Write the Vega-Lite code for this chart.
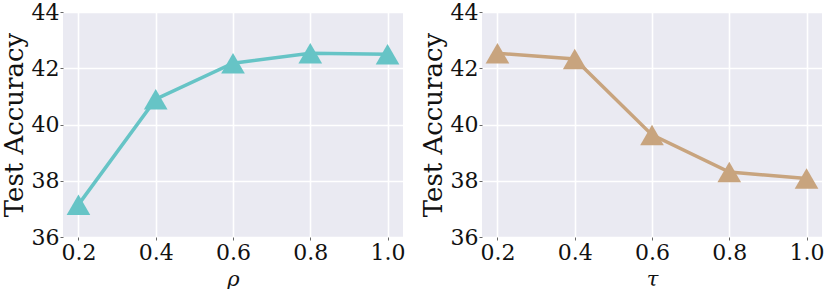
{
  "$schema": "https://vega.github.io/schema/vega-lite/v6.json",
  "padding": {"left": 1, "top": 1, "right": 4, "bottom": 0},
  "background": "white",
  "spacing": 14,
  "config": {
    "font": "DejaVu Serif",
    "view": {"fill": "#EAEAF2", "stroke": null},
    "axis": {
      "gridColor": "white", "gridWidth": 1.6, "domain": false,
      "labelFont": "DejaVu Serif", "labelFontSize": 22, "labelColor": "#111",
      "titleFont": "DejaVu Serif", "titleFontWeight": "normal", "titleColor": "#111",
      "tickColor": "#666", "tickSize": 3, "tickWidth": 1
    }
  },
  "datasets": {
    "rho": [
      {"x": 0.2, "acc": 37.15},
      {"x": 0.4, "acc": 40.9},
      {"x": 0.6, "acc": 42.18},
      {"x": 0.8, "acc": 42.53},
      {"x": 1.0, "acc": 42.5}
    ],
    "tau": [
      {"x": 0.2, "acc": 42.53},
      {"x": 0.4, "acc": 42.33},
      {"x": 0.6, "acc": 39.63},
      {"x": 0.8, "acc": 38.31},
      {"x": 1.0, "acc": 38.08}
    ]
  },
  "hconcat": [
    {
      "width": 340, "height": 225,
      "data": {"name": "rho"},
      "layer": [
        {"mark": {"type": "line", "color": "#66C4C6", "strokeWidth": 3.5}, "encoding": {
          "x": {"field": "x", "type": "quantitative"},
          "y": {"field": "acc", "type": "quantitative"}
        }},
        {"mark": {"type": "point", "shape": "triangle-up", "filled": true, "opacity": 1, "size": 560, "color": "#66C4C6"}, "encoding": {
          "x": {"field": "x", "type": "quantitative", "scale": {"domain": [0.16, 1.04], "nice": false, "zero": false},
            "axis": {"values": [0.2, 0.4, 0.6, 0.8, 1.0], "format": ".1f", "title": "ρ", "titleFontSize": 21, "titleFontStyle": "italic", "titlePadding": 5, "labelPadding": 2}},
          "y": {"field": "acc", "type": "quantitative", "scale": {"domain": [36, 44], "nice": false, "zero": false},
            "axis": {"values": [36, 38, 40, 42, 44], "title": "Test Accuracy", "titleFontSize": 26, "titlePadding": 4, "labelPadding": 1}}
        }}
      ]
    },
    {
      "width": 340, "height": 225,
      "data": {"name": "tau"},
      "layer": [
        {"mark": {"type": "line", "color": "#C8A47E", "strokeWidth": 3.5}, "encoding": {
          "x": {"field": "x", "type": "quantitative"},
          "y": {"field": "acc", "type": "quantitative"}
        }},
        {"mark": {"type": "point", "shape": "triangle-up", "filled": true, "opacity": 1, "size": 560, "color": "#C8A47E"}, "encoding": {
          "x": {"field": "x", "type": "quantitative", "scale": {"domain": [0.16, 1.04], "nice": false, "zero": false},
            "axis": {"values": [0.2, 0.4, 0.6, 0.8, 1.0], "format": ".1f", "title": "τ", "titleFontSize": 21, "titleFontStyle": "italic", "titlePadding": 5, "labelPadding": 2}},
          "y": {"field": "acc", "type": "quantitative", "scale": {"domain": [36, 44], "nice": false, "zero": false},
            "axis": {"values": [36, 38, 40, 42, 44], "title": "Test Accuracy", "titleFontSize": 26, "titlePadding": 4, "labelPadding": 1}}
        }}
      ]
    }
  ]
}
